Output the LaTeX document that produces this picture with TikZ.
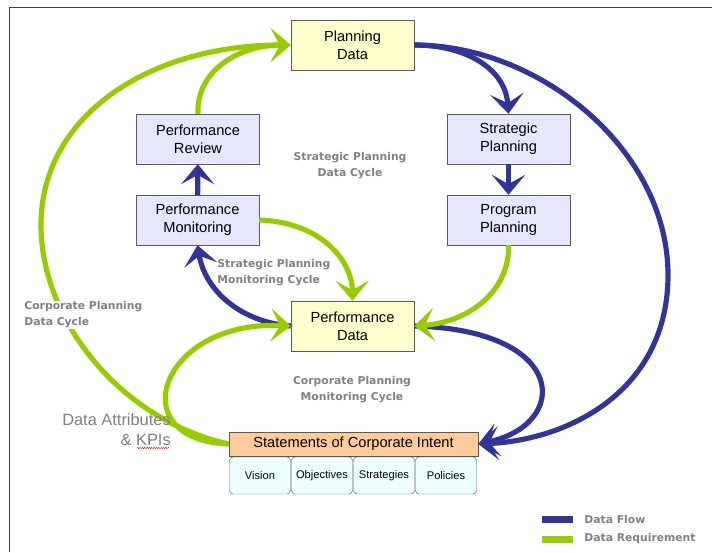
\documentclass[tikz,border=0pt]{standalone}
\usepackage{fontspec}
\setmainfont{Liberation Sans}
\newfontfamily\cyclefont{DejaVu Sans}
\usetikzlibrary{arrows.meta,decorations.pathmorphing}
\definecolor{flowblue}{HTML}{333399}
\definecolor{reqgreen}{HTML}{99CC00}
\definecolor{datayellow}{HTML}{FFFFCC}
\definecolor{planlilac}{HTML}{E6E6FC}
\definecolor{intentpeach}{HTML}{FFCC99}
\definecolor{partcyan}{HTML}{EEFFFF}
\definecolor{labelgrey}{HTML}{808080}
\begin{document}
\begin{tikzpicture}[x=0.03cm, y=-0.03cm,
        box/.style={draw=black!65, minimum width=3.69cm, minimum height=1.5cm, inner sep=0pt, align=center, font=\fontsize{12.5}{15.4}\selectfont},
        databox/.style={box, fill=datayellow},
        planbox/.style={box, fill=planlilac},
        partbox/.style={draw=black!65, fill=partcyan, rounded corners=3pt, minimum width=1.83cm, minimum height=1.11cm, inner sep=0pt, font=\fontsize{9.5}{11}\selectfont},
        cyclelabel/.style={text=labelgrey, inner sep=1pt, font=\cyclefont\bfseries\fontsize{9.2}{13.6}\selectfont},
        flow/.style={draw=flowblue, line width=4.4pt, -{Stealth[length=0.6cm, width=1cm, inset=0.28cm]}},
        req/.style={draw=reqgreen, line width=4.4pt, -{Stealth[length=0.6cm, width=1cm, inset=0.28cm]}},
        swatch/.style={minimum width=0.93cm, minimum height=0.21cm, inner sep=0pt}]
        \useasboundingbox (0,0) rectangle (712,552);
        \draw[black!75, line width=1.7pt] (9.5,552) -- (9.5,7.5) -- (712,7.5);
        \node[databox] (plandata) at (352.5,45) {Planning\\Data};
        \node[planbox] (perfreview) at (198,139) {Performance\\Review};
        \node[planbox] (stratplan) at (508.5,139) {Strategic\\Planning};
        \node[planbox] (perfmon) at (197.5,220) {Performance\\Monitoring};
        \node[planbox] (progplan) at (508.5,220) {Program\\Planning};
        \node[databox] (perfdata) at (352.5,326) {Performance\\Data};
        \node[box, fill=intentpeach, minimum width=7.47cm, minimum height=0.72cm] (intent) at (353.5,444) {Statements of Corporate Intent};
        \node[partbox] (vision) at (260,475.5) {Vision};
        \node[partbox] (objectives) at (322,475.5) {Objectives};
        \node[partbox] (strategies) at (384,475.5) {Strategies};
        \node[partbox] (policies) at (446,475.5) {Policies};
        \draw[flow] (plandata.east) .. controls (465,45) and (505,68) .. (stratplan.north);
        \draw[flow] (plandata.east) .. controls (540,45) and (668,150) .. (668,275) .. controls (668,390) and (570,440) .. (intent.east);
        \draw[flow] (stratplan) -- (progplan);
        \draw[flow] (perfmon) -- (perfreview);
        \draw[flow] (perfdata.west) .. controls (240,322) and (205,290) .. (perfmon.south);
        \draw[flow] (perfdata.east) .. controls (570,330) and (570,425) .. (intent.east);
        \draw[req] (perfreview.north) .. controls (196,70) and (240,45) .. (plandata.west);
        \draw[req] (intent.west) .. controls (120,420) and (41,320) .. (41,225) .. controls (41,115) and (150,45) .. (plandata.west);
        \draw[req] (perfmon.east) .. controls (320,222) and (352,260) .. (perfdata.north);
        \draw[req] (progplan.south) .. controls (510,290) and (470,322) .. (perfdata.east);
        \draw[req] (intent.west) .. controls (120,440) and (160,320) .. (perfdata.west);
        \node[cyclelabel, align=center] (stratdata) at (350,166) {Strategic Planning\\Data Cycle};
        \node[cyclelabel, align=left, anchor=west] (stratmon) at (216,273) {Strategic Planning\\Monitoring Cycle};
        \node[cyclelabel, align=left, anchor=west, fill=white] (corpdata) at (23,315) {Corporate Planning\\Data Cycle};
        \node[cyclelabel, align=center] (corpmon) at (352,390) {Corporate Planning\\Monitoring Cycle};
        \node[text=labelgrey, align=right, anchor=east, inner sep=0pt, font=\fontsize{14}{17}\selectfont] (attrs) at (171,430) {Data Attributes\\\& KPIs};
        \draw[red, line width=0.4pt, decorate, decoration={snake, amplitude=0.5pt, segment length=2pt}] (137,448) -- (170,448);
        \node[swatch, fill=flowblue] (flowkey) at (557,519) {};
        \node[swatch, fill=reqgreen] (reqkey) at (557,539) {};
        \node[cyclelabel, anchor=west] (flowtext) at (583,519) {Data Flow};
        \node[cyclelabel, anchor=west] (reqtext) at (583,539) {Data Requirement};
\end{tikzpicture}
\end{document}
